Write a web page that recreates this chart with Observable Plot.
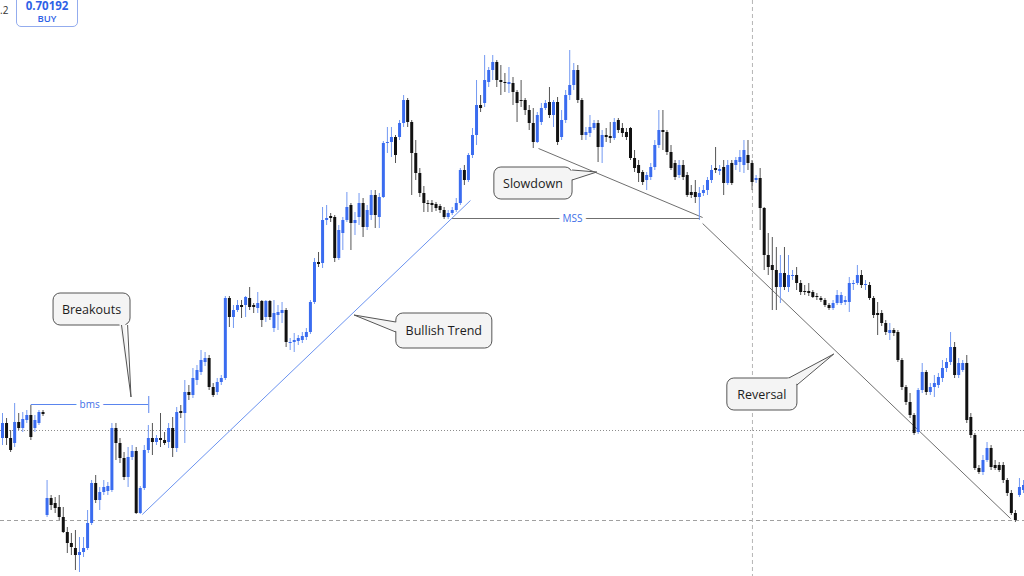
<!DOCTYPE html>
<html>
<head>
<meta charset="utf-8">
<script src="https://cdn.jsdelivr.net/npm/d3@7"></script>
<script src="https://cdn.jsdelivr.net/npm/@observablehq/plot@0.6"></script>
<style>
html, body { margin: 0; padding: 0; background: #fff; overflow: hidden; }
#wrap { position: relative; width: 1024px; height: 576px; }
#wrap svg { position: absolute; left: 0; top: 0; }
.ov { position: absolute; font-family: "Open Sans", "Noto Sans", sans-serif; white-space: nowrap; }
#buybox { left: 16px; top: -8px; width: 62px; height: 35px; border: 1px solid #93acee; border-radius: 5px; box-sizing: border-box; background: #fff; }
#buyprice { left: 16px; top: 0px; width: 62px; text-align: center; font-size: 11.5px; font-weight: 700; line-height: 12px; color: #2f62e6; }
#buylabel { left: 16px; top: 13px; width: 62px; text-align: center; font-size: 9.5px; font-weight: 600; line-height: 11px; color: #2f62e6; }
#selltail { left: 0px; top: 4px; font-size: 10px; line-height: 12px; color: #333; }
</style>
</head>
<body>
<div id="wrap"></div>
<script>
// ---- candle data (price × 10⁴) ----
const opens = [
6992,7007,6992,6987,7008,7002,7010,7015,7002,7007,7018,
6915,6932,6927,6923,6913,6898,6887,6882,6875,6878,6882,6907,6947,6930,6938,6939,6940,7002,6987,6972,6953,6973,6979,6917,6942,6980,6992,6988,6992,6990,6988,7002,6982,7019,7017,7038,7035,
7050,7058,7068,
7072,7043,7038,7048,7052,7132,7113,7120,7125,7125,7132,7125,7122,7129,7113,7129,7102,7115,7117,7120,7087,7088,7089,7090,7093,7098,7128,7168,7167,7210,7214,7213,7172,7197,7210,7225,7207,7213,7227,7203,7215,7235,7213,7233,7287,7288,7293,7293,7307,
7330,7308,7277,7257,7237,7227,7227,7226,7224,7220,7213,7217,7220,7227,7260,7250,7275,7295,7325,7327,7348,7360,7368,7350,7348,7346,7347,7338,7330,7330,7320,7307,7288,7308,7322,7328,7315,7328,7293,7310,7335,7345,7360,7330,7295,7297,7302,7307,7283,7295,
7294,7292,7310,7302,7298,7302,7272,7265,7258,7250,7253,7263,7285,7300,7298,7278,7267,7255,7265,7255,7238,7238,7233,7237,7240,7250,7262,7259,7263,7247,7267,7265,7268,7265,7275,7267,7250,7252,7222,7175,7165,7160,7143,7157,7143,7154,7155,7147,7139,7139,
7138,7134,7132,7130,7125,7122,7127,7127,7128,7128,7146,7147,7155,7145,7145,7132,7117,7117,7107,7097,7100,7098,7070,7043,7028,7015,6998,7040,7058,7038,7043,7045,7052,7062,7068,7083,7055,7060,7067,7013,6995,6962,6958,6970,6982,6965,6965,6965,6950,6937,6917,6935,6940
];
const highs = [
7017,7012,7000,7027,7017,7018,7020,7025,7015,7020,7020,
6950,6935,6933,6935,6923,6903,6897,6900,6893,6893,6920,6950,6955,6943,6950,6948,7007,7007,6992,6978,6983,6985,6983,6944,6985,7005,7007,6995,7017,6998,7007,7013,7023,7025,7050,7045,7062,
7065,7080,7078,
7075,7047,7052,7055,7134,7134,7125,7130,7130,7134,7143,7127,7138,7130,7130,7130,7130,7125,7128,7122,7092,7097,7095,7098,7102,7130,7172,7178,7223,7225,7217,7215,7205,7213,7238,7227,7218,7237,7232,7225,7240,7240,7237,7289,7303,7303,7295,7310,7335,
7332,7310,7290,7262,7244,7230,7230,7228,7226,7223,7220,7223,7232,7262,7265,7277,7302,7350,7335,7375,7363,7375,7370,7365,7357,7363,7353,7340,7350,7332,7325,7322,7318,7327,7330,7343,7330,7333,7320,7340,7380,7367,7365,7332,7303,7315,7310,7310,7300,7302,
7308,7312,7312,7307,7302,7303,7280,7270,7260,7258,7267,7290,7320,7320,7300,7285,7270,7270,7270,7258,7245,7250,7243,7245,7253,7265,7283,7265,7270,7270,7270,7273,7280,7290,7290,7270,7255,7262,7223,7197,7193,7183,7175,7183,7175,7160,7163,7150,7145,7147,
7140,7137,7134,7132,7127,7130,7140,7138,7134,7153,7150,7165,7160,7150,7148,7134,7128,7120,7110,7107,7102,7100,7072,7045,7037,7017,7042,7067,7060,7047,7055,7057,7070,7072,7098,7088,7072,7070,7075,7017,6997,6965,6975,6988,6985,6970,6968,6968,6952,6940,6920,6952,6950
];
const lows = [
6985,6985,6978,6983,7000,6998,7007,6990,6998,7005,7014,
6913,6920,6917,6910,6897,6877,6875,6860,6858,6873,6880,6905,6927,6920,6935,6935,6938,6970,6967,6950,6943,6970,6916,6916,6940,6977,6975,6985,6983,6985,6982,6973,6978,7012,6987,7030,7032,
7045,7055,7064,
7040,7033,7035,7045,7050,7103,7102,7118,7112,7113,7120,7117,7117,7103,7108,7110,7098,7100,7107,7083,7080,7078,7085,7087,7090,7096,7126,7163,7162,7205,7208,7168,7170,7180,7208,7180,7195,7205,7193,7200,7210,7202,7202,7232,7277,7273,7267,7290,7303,
7303,7235,7250,7233,7218,7218,7218,7219,7217,7211,7211,7215,7218,7225,7245,7248,7272,7285,7318,7323,7343,7350,7343,7335,7338,7337,7325,7308,7323,7315,7300,7282,7287,7305,7320,7312,7303,7285,7290,7307,7330,7340,7327,7290,7290,7293,7300,7268,7267,7288,
7287,7290,7297,7293,7290,7270,7258,7248,7245,7240,7250,7260,7282,7280,7275,7260,7250,7252,7250,7233,7232,7227,7210,7234,7235,7247,7257,7255,7235,7245,7245,7260,7258,7257,7260,7240,7247,7200,7160,7155,7120,7120,7127,7140,7138,7150,7140,7135,7135,7134,
7132,7130,7128,7123,7120,7120,7125,7125,7125,7118,7140,7145,7142,7140,7130,7112,7095,7104,7095,7090,7094,7068,7040,7025,7012,6995,6996,7037,7035,7035,7033,7042,7048,7058,7065,7052,7052,7058,7007,6992,6960,6956,6955,6968,6960,6960,6958,6947,6934,6915,6908,6933,6937
];
const closes = [
7007,6992,6980,7008,7002,7011,7015,6993,7010,7018,7016,
6932,6925,6922,6913,6898,6887,6883,6875,6878,6882,6907,6947,6930,6938,6943,6944,7002,6987,6972,6953,6973,6979,6917,6942,6980,6992,6988,6992,6990,6987,7002,6982,7018,7017,7038,7035,7052,
7060,7070,7072,
7043,7035,7048,7052,7132,7113,7120,7125,7123,7133,7123,7123,7127,7110,7129,7113,7117,7118,7120,7088,7088,7090,7092,7094,7098,7128,7168,7166,7210,7212,7212,7172,7200,7210,7223,7207,7210,7227,7203,7220,7235,7215,7233,7287,7288,7293,7275,7307,7330,
7308,7277,7257,7237,7227,7226,7225,7222,7220,7213,7217,7220,7227,7260,7250,7275,7295,7325,7322,7350,7360,7368,7350,7348,7347,7348,7338,7327,7329,7320,7307,7288,7315,7322,7327,7315,7328,7288,7310,7335,7345,7360,7330,7295,7298,7303,7307,7283,7295,7293,
7292,7308,7300,7297,7293,7272,7262,7257,7248,7255,7263,7285,7300,7298,7278,7262,7253,7265,7253,7235,7235,7233,7237,7240,7250,7260,7260,7261,7247,7265,7247,7270,7273,7280,7267,7248,7252,7222,7175,7163,7160,7143,7157,7143,7155,7155,7147,7138,7138,7137,
7133,7133,7130,7125,7122,7127,7135,7135,7130,7147,7147,7155,7145,7146,7132,7115,7115,7107,7098,7100,7097,7070,7043,7028,7015,6997,7040,7058,7038,7043,7047,7053,7062,7068,7083,7055,7067,7067,7010,6995,6962,6958,6970,6982,6963,6962,6960,6950,6937,6917,6910,6943,6945
];

// ---- reference levels and drawn annotations (candle index, price) ----
const dottedLevel = 0.7000;
const dashedLevel = 0.6910;
const crosshairIndex = 185.1;
const bullishTrend = [[34.5, 0.6916], [115.5, 0.7230]];
const slowdownLine = [[132.3, 0.7282], [172.8, 0.7213]];
const reversalLine = [[172.8, 0.7207], [248.8, 0.6912]];
const mss = {x1: 111.1, x2: 172.3, y: 0.7212, labelX: 140.7, label: "MSS"};
const bms = {x1: 7.1, x2: 36.1, y: 0.7026, labelX: 21.5, label: "bms", tickTop: 0.7034, tickBottom: 0.7017};
const callouts = [
  {label: "Breakouts", x1: 12.6, x2: 31.6, top: 0.7137, bottom: 0.7105, base: [[29.5, 0.7105], [31.0, 0.7105]], tip: [31.84, 0.7033]},
  {label: "Bullish Trend", x1: 97.2, x2: 120.9, top: 0.7117, bottom: 0.7082, base: [[97.2, 0.7108], [97.2, 0.7098]], tip: [86.9, 0.7115]},
  {label: "Slowdown", x1: 121.4, x2: 140.7, top: 0.7263, bottom: 0.7231, base: [[140.7, 0.7260], [140.7, 0.7250]], tip: [146.8, 0.7258]},
  {label: "Reversal", x1: 178.9, x2: 196.2, top: 0.7052, bottom: 0.7020, base: [[194.2, 0.7052], [196.2, 0.7045]], tip: [205.3, 0.7076]}
];

const candles = opens.map((o, i) => ({
  i, open: o / 1e4, high: highs[i] / 1e4, low: lows[i] / 1e4, close: closes[i] / 1e4, up: closes[i] >= o
}));
const upC = candles.filter(d => d.up);
const downC = candles.filter(d => !d.up);

const BLUE = "#3a6cf0", BLUE_WICK = "#7399f2", BLACK = "#111111", GRAY_WICK = "#555555";
const LINE_GRAY = "#6f6f6f";

const chart = Plot.plot({
  width: 1024,
  height: 576,
  margin: 0,
  style: {background: "#ffffff", overflow: "visible"},
  x: {domain: [0, candles.length - 1], range: [2, 1023], axis: null},
  y: {domain: [0.6854, 0.7430], range: [576, 0], axis: null},
  marks: [
    Plot.ruleY([dottedLevel], {stroke: "#8c8c8c", strokeDasharray: "1,2", strokeWidth: 1}),
    Plot.ruleY([dashedLevel], {stroke: "#a0a0a0", strokeDasharray: "4,3", strokeWidth: 1}),
    Plot.ruleX([crosshairIndex], {stroke: "#b5b5b5", strokeDasharray: "4,3", strokeWidth: 1}),
    Plot.link([bullishTrend], {x1: d => d[0][0], y1: d => d[0][1], x2: d => d[1][0], y2: d => d[1][1], stroke: "#6b93f0", strokeWidth: 1}),
    Plot.link([slowdownLine], {x1: d => d[0][0], y1: d => d[0][1], x2: d => d[1][0], y2: d => d[1][1], stroke: LINE_GRAY, strokeWidth: 1}),
    Plot.link([reversalLine], {x1: d => d[0][0], y1: d => d[0][1], x2: d => d[1][0], y2: d => d[1][1], stroke: LINE_GRAY, strokeWidth: 1}),
    Plot.ruleY([mss], {y: "y", x1: "x1", x2: "x2", stroke: LINE_GRAY, strokeWidth: 1}),
    Plot.ruleY([bms], {y: "y", x1: "x1", x2: "x2", stroke: "#5a85ee", strokeWidth: 1}),
    Plot.ruleX([bms], {x: "x2", y1: "tickBottom", y2: "tickTop", stroke: "#5a85ee", strokeWidth: 1}),
    // wicks
    Plot.ruleX(upC, {x: "i", y1: "low", y2: "high", stroke: BLUE_WICK, strokeWidth: 1}),
    Plot.ruleX(downC, {x: "i", y1: "low", y2: "high", stroke: GRAY_WICK, strokeWidth: 1}),
    // bodies
    Plot.ruleX(upC, {x: "i", y1: "open", y2: "close", stroke: BLUE, strokeWidth: 3}),
    Plot.ruleX(downC, {x: "i", y1: "open", y2: "close", stroke: BLACK, strokeWidth: 3}),
    // line labels with white halo
    Plot.text([mss, bms], {x: "labelX", y: "y", text: "label", fill: "#3f6fe8", stroke: "white", strokeWidth: 8, fontSize: 10, fontFamily: "Open Sans, sans-serif"})
  ]
});

// callouts drawn with the chart's own scales
const sx = chart.scale("x"), sy = chart.scale("y");
const X = v => sx.apply(v), Y = v => sy.apply(v);
const g = d3.select(chart).append("g").attr("class", "callouts");
for (const c of callouts) {
  const left = X(c.x1), right = X(c.x2), top = Y(c.top), bottom = Y(c.bottom);
  const cx = (left + right) / 2, cy = (top + bottom) / 2;
  g.append("rect")
    .attr("x", left).attr("y", top)
    .attr("width", right - left).attr("height", bottom - top)
    .attr("rx", 7).attr("ry", 7)
    .attr("fill", "#f4f4f4").attr("stroke", "#555").attr("stroke-width", 1);
  const tip = [X(c.tip[0]), Y(c.tip[1])];
  const base = c.base.map(([bx, by]) => [X(bx), Y(by)]);
  const inner = base.map(([bx, by]) => {
    const dx = cx - bx, dy = cy - by, L = Math.hypot(dx, dy) || 1;
    return [bx + 2.5 * dx / L, by + 2.5 * dy / L];
  });
  g.append("path")
    .attr("d", `M${inner[0]}L${tip}L${inner[1]}Z`)
    .attr("fill", "#f4f4f4").attr("stroke", "none");
  for (const b of base) {
    g.append("line")
      .attr("x1", b[0]).attr("y1", b[1]).attr("x2", tip[0]).attr("y2", tip[1])
      .attr("stroke", "#555").attr("stroke-width", 1);
  }
  g.append("text")
    .attr("x", cx).attr("y", cy)
    .attr("text-anchor", "middle").attr("dominant-baseline", "central")
    .attr("font-family", "Open Sans, Noto Sans, sans-serif")
    .attr("font-size", 12.5).attr("fill", "#1d1d1d")
    .text(c.label);
}

const wrap = document.getElementById("wrap");
wrap.appendChild(chart);
wrap.insertAdjacentHTML("beforeend",
  '<div class="ov" id="selltail">.2</div>' +
  '<div class="ov" id="buybox"></div>' +
  '<div class="ov" id="buyprice">0.70192</div>' +
  '<div class="ov" id="buylabel">BUY</div>');
</script>
</body>
</html>
